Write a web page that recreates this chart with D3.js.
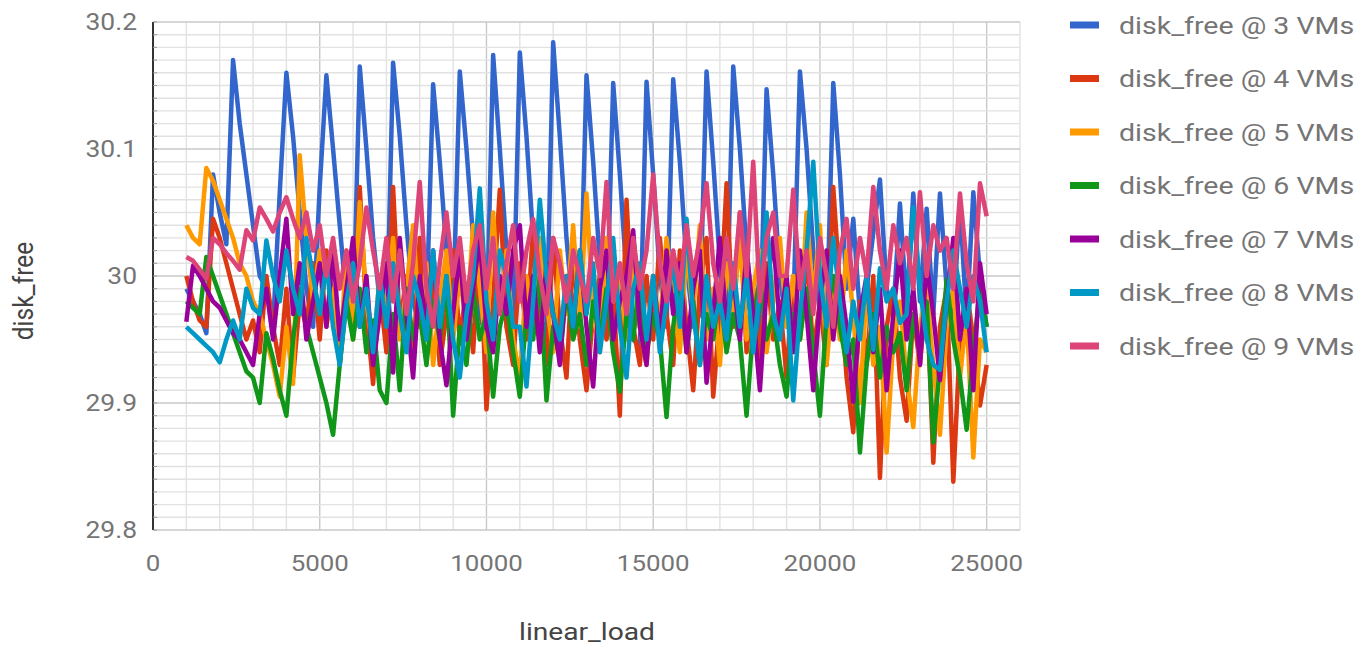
<!DOCTYPE html>
<html>
<head>
<meta charset="utf-8">
<script src="https://cdn.jsdelivr.net/npm/d3@7"></script>
<style>
  body { margin: 0; background: #fff; }
  text { font-family: Roboto, "Noto Sans", sans-serif; }
</style>
</head>
<body>
<div id="chart"></div>
<script>
// linear_load values shared by all series
var loads = [
  1000, 1200, 1400, 1600, 1800, 2000, 2200, 2400, 2600, 2800,
  3000, 3200, 3400, 3600, 3800, 4000, 4200, 4400, 4600, 4800,
  5000, 5200, 5400, 5600, 5800, 6000, 6200, 6400, 6600, 6800,
  7000, 7200, 7400, 7600, 7800, 8000, 8200, 8400, 8600, 8800,
  9000, 9200, 9400, 9600, 9800, 10000, 10200, 10400, 10600, 10800,
  11000, 11200, 11400, 11600, 11800, 12000, 12200, 12400, 12600, 12800,
  13000, 13200, 13400, 13600, 13800, 14000, 14200, 14400, 14600, 14800,
  15000, 15200, 15400, 15600, 15800, 16000, 16200, 16400, 16600, 16800,
  17000, 17200, 17400, 17600, 17800, 18000, 18200, 18400, 18600, 18800,
  19000, 19200, 19400, 19600, 19800, 20000, 20200, 20400, 20600, 20800,
  21000, 21200, 21400, 21600, 21800, 22000, 22200, 22400, 22600, 22800,
  23000, 23200, 23400, 23600, 23800, 24000, 24200, 24400, 24600, 24800,
  25000
];

// disk_free for each VM count
var vm3 = [
  29.99, 29.98, 29.97, 29.955, 30.08, 30.05, 30.025, 30.17, 30.12, 30.08,
  30.04, 30.0, 29.99, 29.96, 30.065, 30.16, 30.11, 30.05, 29.99, 29.96,
  30.07, 30.158, 30.1, 30.04, 29.98, 29.96, 30.165, 30.1, 30.03, 29.98,
  29.95, 30.168, 30.11, 30.04, 29.98, 29.96, 29.97, 30.151, 30.09, 30.02,
  29.97, 30.161, 30.1, 30.03, 29.97, 29.95, 30.174, 30.1, 30.02, 29.96,
  30.176, 30.11, 30.03, 29.97, 29.95, 30.184, 30.11, 30.03, 29.97, 29.96,
  30.158, 30.09, 30.01, 29.96, 30.152, 30.08, 30.0, 29.95, 29.945, 30.153,
  30.08, 30.0, 29.96, 30.155, 30.09, 30.01, 29.96, 29.97, 30.161, 30.09,
  30.01, 29.96, 30.165, 30.1, 30.02, 29.97, 29.95, 30.147, 30.08, 30.0,
  29.96, 29.97, 30.161, 30.1, 30.02, 29.97, 29.96, 30.152, 30.08, 29.99,
  30.045, 29.97, 29.99, 30.034, 30.076, 29.99, 29.97, 30.057, 29.975, 30.065,
  29.98, 30.053, 29.97, 30.065, 29.99, 29.97, 30.056, 29.965, 30.066, 30.0,
  29.96
];
var vm4 = [
  30.0, 29.98, 29.965, 29.96, 30.045, 30.03, 30.01, 29.99, 29.97, 29.95,
  29.965, 29.94, 30.0, 29.96, 29.93, 29.99, 29.92, 29.98, 29.96, 30.01,
  29.95, 30.02, 29.98, 29.93, 29.99, 29.96, 30.07, 29.97, 29.915, 29.99,
  29.94, 30.07, 29.96, 30.0, 29.93, 30.03, 29.95, 30.0, 29.93, 29.97,
  30.02, 29.95, 29.99, 29.94, 30.03, 29.895, 29.98, 30.068, 29.96, 29.93,
  30.01, 29.95, 30.04, 29.97, 29.93, 30.03, 29.96, 29.92, 30.02, 29.95,
  29.91, 29.97, 30.0, 29.95, 29.99, 29.89, 30.06, 29.96, 29.93, 30.0,
  29.95, 30.03, 29.97, 29.93, 30.02, 29.96, 29.91, 29.99, 30.03, 29.905,
  29.97, 30.073, 29.96, 30.05, 29.94, 29.99, 29.93, 30.01, 29.95, 29.98,
  29.92, 30.0, 29.95, 30.02, 29.94, 29.98, 29.93, 30.07, 29.99, 29.92,
  29.877, 29.98, 29.93, 30.0, 29.841, 29.96, 29.99, 29.92, 29.886, 29.97,
  29.93, 29.99, 29.853, 29.96, 29.99, 29.838, 29.95, 29.99, 29.95, 29.898,
  29.93
];
var vm5 = [
  30.04, 30.03, 30.025, 30.085, 30.075, 30.06, 30.045, 30.03, 30.01, 30.0,
  29.98, 29.97, 29.95, 29.93, 29.905, 29.96, 29.915, 30.095, 30.03, 29.98,
  30.02, 29.96, 29.99, 29.93, 30.02, 29.95, 30.058, 29.98, 29.94, 30.0,
  29.97, 30.03, 29.95, 29.99, 30.04, 29.96, 30.01, 29.93, 29.98, 30.02,
  29.95, 30.0, 29.96, 30.04, 29.99, 29.94, 30.05, 29.97, 30.02, 29.95,
  29.92, 30.0, 29.96, 30.03, 29.98, 29.94, 30.02, 29.97, 30.04, 29.96,
  30.065, 29.97, 29.94, 30.03, 29.98, 30.0, 29.95, 30.02, 29.96, 29.93,
  30.0, 29.96, 30.03, 29.98, 29.94, 30.02, 29.97, 30.04, 29.95, 29.99,
  29.93, 30.01, 29.97, 30.03, 29.95, 29.99, 30.02, 29.94, 29.98, 30.03,
  29.96, 30.0, 29.95, 30.05, 29.98, 30.04, 29.93, 29.99, 29.95, 30.02,
  29.97, 29.9, 29.99, 29.93, 29.96, 29.861, 29.95, 29.98, 29.92, 29.881,
  29.96, 29.99, 29.93, 29.875, 29.96, 29.99, 29.92, 29.97, 29.857, 29.95,
  29.94
];
var vm6 = [
  29.98, 29.975, 29.97, 30.015, 30.0, 29.985, 29.97, 29.955, 29.94, 29.925,
  29.92, 29.9, 29.955, 29.935, 29.91, 29.89, 29.95, 29.99, 29.96, 29.94,
  29.92, 29.9, 29.875, 29.93, 29.98, 29.95, 29.99, 29.94, 29.965, 29.91,
  29.9, 29.97, 29.91, 29.99, 29.95, 29.97, 29.93, 29.98, 29.95, 30.0,
  29.89, 29.96, 29.93, 29.99, 29.95, 29.97, 29.905, 29.96, 29.98, 29.94,
  29.905, 29.97, 29.95, 30.0, 29.902, 29.96, 29.935, 29.99, 29.95, 29.97,
  29.93, 29.98, 29.95, 29.99, 29.94, 29.909, 29.97, 29.95, 30.0, 29.94,
  29.97, 29.95, 29.889, 29.96, 30.0, 29.94, 29.98, 29.93, 29.97, 29.95,
  29.99, 29.94, 29.97, 29.95, 29.89, 29.96, 30.0, 29.95, 29.97, 29.93,
  29.905, 29.97, 29.95, 29.99, 29.94, 29.89, 29.97, 30.0, 29.96, 29.93,
  29.95, 29.861, 29.93, 29.97, 29.92, 29.96, 29.94, 29.955, 29.91, 29.97,
  29.94, 29.98, 29.869, 29.93, 29.997, 29.95, 29.92, 29.879, 29.94, 29.99,
  29.96
];
var vm7 = [
  29.964, 30.008, 30.0, 29.99, 29.98, 29.975, 29.965, 29.955, 29.95, 29.94,
  29.93, 29.97, 29.99, 29.95, 30.0, 30.045, 29.97, 30.01, 29.95, 29.98,
  30.01, 29.96, 30.02, 29.95, 29.99, 30.03, 29.96, 30.0, 29.93, 29.97,
  30.01, 29.924, 30.03, 29.97, 29.92, 30.0, 29.96, 30.02, 29.95, 29.914,
  29.97, 30.02, 29.95, 29.99, 30.03, 29.96, 29.94, 30.0, 29.97, 30.02,
  30.04, 29.96, 30.0, 29.94, 30.01, 29.97, 29.93, 30.0, 29.96, 30.02,
  29.96, 29.913, 29.99, 30.02, 29.95, 29.98, 30.0, 30.036, 29.96, 29.93,
  30.0, 29.95, 30.02, 29.97, 30.01, 29.94, 29.99, 30.02, 29.916, 29.97,
  30.03, 29.96, 30.0, 29.95, 30.02, 29.97, 29.91, 29.99, 30.03, 29.96,
  30.0, 29.94, 30.02, 29.97, 29.91, 29.98, 30.02, 29.95, 30.0, 29.96,
  29.901, 29.97, 30.0, 29.94, 29.99, 29.91, 29.97, 30.02, 29.95, 29.99,
  29.93, 30.01, 29.97, 29.918, 29.98, 30.03, 29.95, 29.99, 29.91, 30.01,
  29.97
];
var vm8 = [
  29.96, 29.955, 29.95, 29.945, 29.94, 29.932, 29.95, 29.965, 29.95, 29.99,
  29.975, 29.97, 30.028, 30.0, 29.98, 30.02, 29.99, 29.97, 30.03, 30.0,
  29.97, 30.01, 29.96, 29.93, 29.98, 30.01, 29.96, 29.99, 29.94, 30.0,
  29.96, 30.01, 29.97, 29.94, 30.0, 29.98, 29.95, 30.02, 29.96, 30.0,
  29.95, 29.92, 29.97, 30.0, 30.069, 29.98, 29.95, 30.02, 30.0, 29.96,
  29.96, 29.913, 29.98, 30.06, 30.0, 29.97, 29.95, 30.0, 29.96, 30.02,
  29.97, 30.01, 29.94, 29.98, 30.03, 29.96, 29.92, 29.99, 30.01, 29.95,
  30.0, 29.94, 29.98, 30.01, 29.96, 30.045, 29.97, 29.93, 30.0, 29.96,
  29.98, 29.95, 30.01, 29.96, 30.0, 29.94, 29.99, 30.05, 29.97, 29.95,
  29.99, 29.902, 29.97, 30.02, 30.09, 30.0, 29.96, 30.03, 29.98, 29.94,
  29.98, 29.95, 30.0, 29.942, 30.006, 29.98, 29.99, 29.963, 29.97, 30.054,
  29.99, 29.95, 29.93, 29.926, 29.98, 30.02, 29.99, 29.96, 30.0, 29.98,
  29.94
];
var vm9 = [
  30.015, 30.012, 30.005, 29.998, 30.03, 30.025, 30.018, 30.012, 30.005, 30.036,
  30.028, 30.054, 30.045, 30.035, 30.05, 30.062, 30.045, 30.03, 30.05, 30.02,
  30.04, 30.0, 30.03, 29.99, 30.02, 29.98, 30.01, 30.054, 30.02, 29.99,
  30.03, 29.98, 30.02, 29.97, 30.01, 30.074, 29.99, 29.96, 30.01, 30.05,
  30.0, 30.03, 29.98, 30.02, 30.04, 29.99, 30.03, 29.97, 30.01, 30.04,
  29.98, 30.02, 30.045, 30.0, 29.97, 30.03, 30.01, 29.98, 30.02, 30.0,
  29.98, 30.03, 30.0, 30.074, 29.98, 30.01, 29.97, 30.03, 29.99, 30.02,
  30.08, 30.01, 29.98, 30.02, 29.99, 30.04, 30.0, 30.03, 30.073, 30.01,
  29.98, 30.03, 29.99, 30.05, 30.0, 30.09, 29.98, 30.03, 30.05, 30.0,
  30.0, 30.068, 29.99, 30.02, 29.97, 30.03, 30.0, 29.96, 30.02, 30.045,
  29.99, 30.03, 30.0, 30.07, 30.02, 29.99, 30.04, 30.01, 30.03, 29.99,
  30.066, 30.0, 30.04, 30.02, 30.03, 29.99, 30.065, 30.01, 29.98, 30.073,
  30.047
];

var seriesNames = ["disk_free @ 3 VMs", "disk_free @ 4 VMs", "disk_free @ 5 VMs",
  "disk_free @ 6 VMs", "disk_free @ 7 VMs", "disk_free @ 8 VMs", "disk_free @ 9 VMs"];
var seriesValues = [vm3, vm4, vm5, vm6, vm7, vm8, vm9];
var seriesColors = ["#3366cc", "#dc3912", "#ff9900", "#109618", "#990099", "#0099c6", "#dd4477"];

var xTicks = [0, 5000, 10000, 15000, 20000, 25000];
var yTicks = [29.8, 29.9, 30, 30.1, 30.2];
var yTickLabels = ["29.8", "29.9", "30", "30.1", "30.2"];

var svgWidth = 1372;
var svgHeight = 646;

var plot = { left: 153, top: 22, right: 1020, bottom: 530 };

// the picture is a little wider than tall, so text gets stretched sideways
var stretch = 1.15;

var svg = d3.select("#chart")
  .append("svg")
  .attr("width", svgWidth)
  .attr("height", svgHeight)
  .style("display", "block");

var xScale = d3.scaleLinear()
  .domain([0, 26000])
  .range([plot.left, plot.right]);

var yScale = d3.scaleLinear()
  .domain([29.8, 30.2])
  .range([plot.bottom, plot.top]);

// gridlines, darker every 5000 / 0.1
var gridGroup = svg.append("g");

gridGroup.selectAll(".vminor")
  .data(d3.range(0, 26001, 1000))
  .enter()
  .append("line")
  .attr("x1", d => xScale(d))
  .attr("x2", d => xScale(d))
  .attr("y1", plot.top)
  .attr("y2", plot.bottom)
  .attr("stroke", d => d % 5000 === 0 ? "#c8c8c8" : "#e2e2e2")
  .attr("stroke-width", 1.4);

gridGroup.selectAll(".hminor")
  .data(d3.range(0, 41))
  .enter()
  .append("line")
  .attr("x1", plot.left)
  .attr("x2", plot.right)
  .attr("y1", d => yScale(29.8 + d * 0.01))
  .attr("y2", d => yScale(29.8 + d * 0.01))
  .attr("stroke", d => d % 10 === 0 ? "#c8c8c8" : "#e2e2e2")
  .attr("stroke-width", 1.4);

// left axis line with little ticks
svg.append("line")
  .attr("x1", plot.left)
  .attr("x2", plot.left)
  .attr("y1", plot.top)
  .attr("y2", plot.bottom)
  .attr("stroke", "#333")
  .attr("stroke-width", 2);

svg.selectAll(".ytick")
  .data(d3.range(0, 41))
  .enter()
  .append("line")
  .attr("x1", plot.left)
  .attr("x2", plot.left + 4)
  .attr("y1", d => yScale(29.8 + d * 0.01))
  .attr("y2", d => yScale(29.8 + d * 0.01))
  .attr("stroke", "#999")
  .attr("stroke-width", 1);

// series lines
var line = d3.line()
  .x((d, i) => xScale(loads[i]))
  .y(d => yScale(d));

svg.append("g")
  .selectAll("path")
  .data(seriesValues)
  .enter()
  .append("path")
  .attr("d", d => line(d))
  .attr("fill", "none")
  .attr("stroke", (d, i) => seriesColors[i])
  .attr("stroke-width", 4.5)
  .attr("stroke-linejoin", "round");

// tick labels
svg.selectAll(".ylabel")
  .data(yTicks)
  .enter()
  .append("text")
  .attr("transform", d => `translate(137, ${yScale(d) + 8}) scale(${stretch}, 1)`)
  .attr("text-anchor", "end")
  .attr("font-size", "23px")
  .attr("fill", "#757575")
  .text((d, i) => yTickLabels[i]);

svg.selectAll(".xlabel")
  .data(xTicks)
  .enter()
  .append("text")
  .attr("transform", d => `translate(${xScale(d)}, 571) scale(${stretch}, 1)`)
  .attr("text-anchor", "middle")
  .attr("font-size", "22.5px")
  .attr("fill", "#757575")
  .text(d => d);

// axis titles
svg.append("text")
  .attr("transform", `translate(587, 640) scale(${stretch}, 1)`)
  .attr("text-anchor", "middle")
  .attr("font-size", "24.5px")
  .attr("fill", "#444")
  .text("linear_load");

svg.append("text")
  .attr("transform", `translate(33, 291) rotate(-90) scale(1, ${stretch})`)
  .attr("text-anchor", "middle")
  .attr("font-size", "24.5px")
  .attr("fill", "#444")
  .text("disk_free");

// legend
var legend = svg.append("g");

var legendRows = legend.selectAll("g")
  .data(seriesNames)
  .enter()
  .append("g")
  .attr("transform", (d, i) => `translate(0, ${25 + i * 53.5})`);

legendRows.append("rect")
  .attr("x", 1070)
  .attr("y", -3.5)
  .attr("width", 29)
  .attr("height", 7)
  .attr("fill", (d, i) => seriesColors[i]);

legendRows.append("text")
  .attr("transform", `translate(1119, 8.5) scale(${stretch}, 1)`)
  .attr("font-size", "24.8px")
  .attr("fill", "#757575")
  .text(d => d);
</script>
</body>
</html>
